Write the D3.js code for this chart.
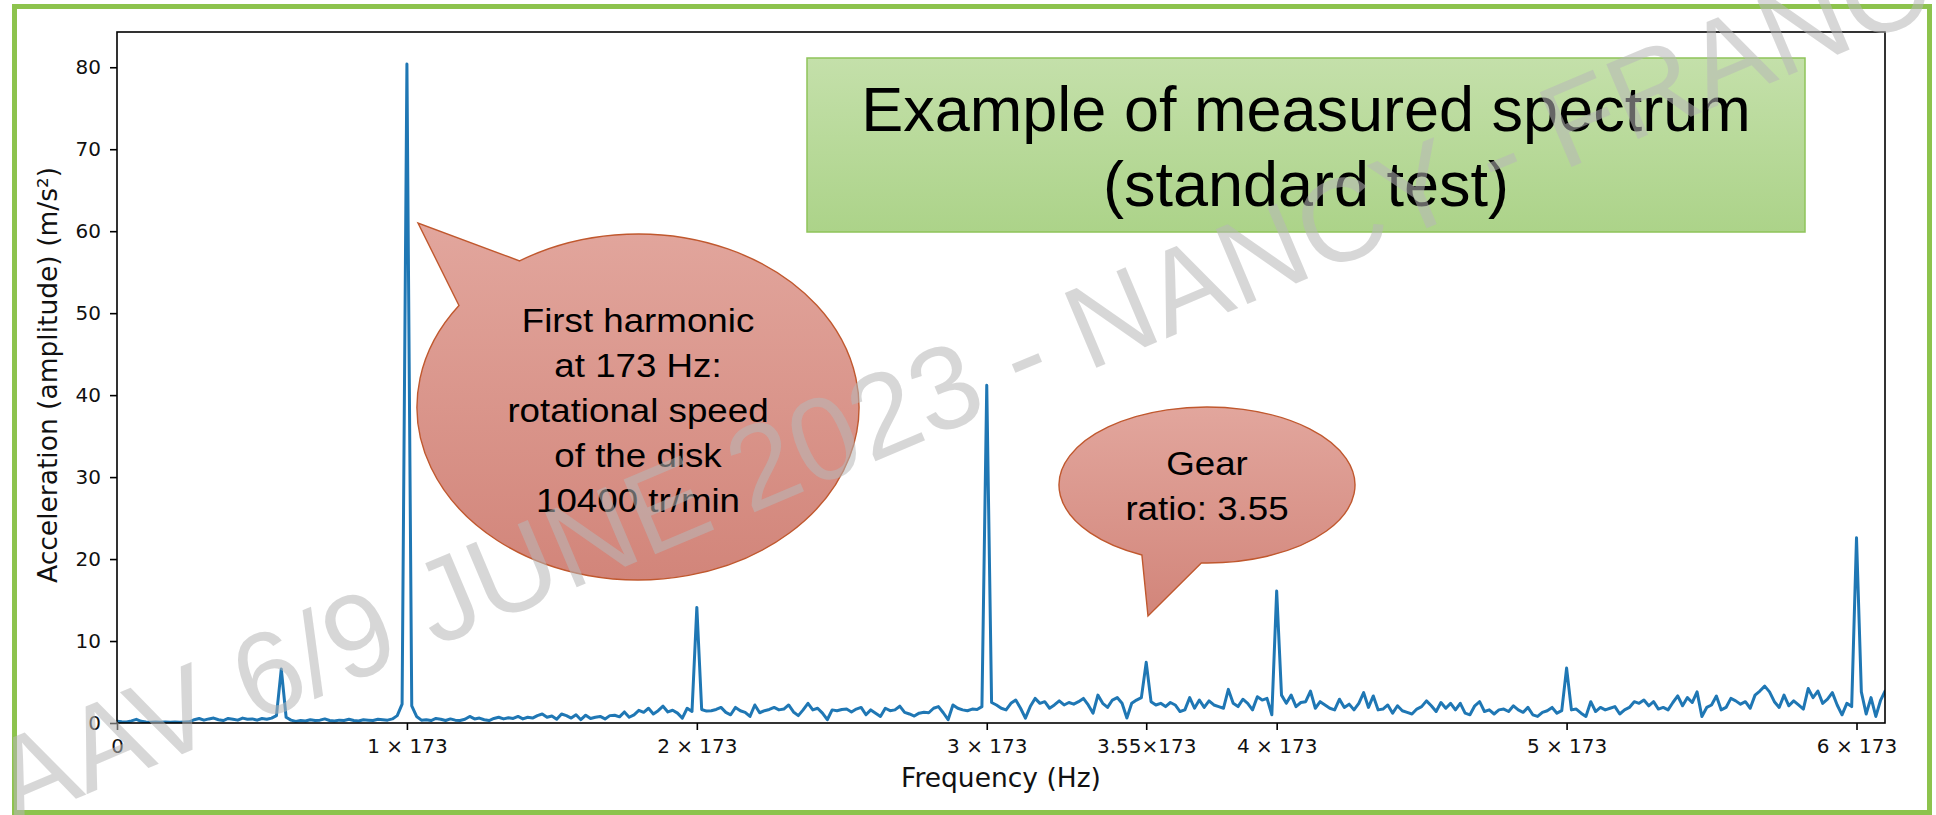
<!DOCTYPE html>
<html>
<head>
<meta charset="utf-8">
<script src="https://cdn.jsdelivr.net/npm/d3@7"></script>
<style>
  body { margin: 0; background: #fff; }
  svg { display: block; }
</style>
</head>
<body>
<div id="chart"></div>
<script>
// spectrum bins: one value every 173/60 Hz, from 0 Hz up to 1055 Hz
var binWidth = 173 / 60;
var amplitude = [
  0.2, 0.15, 0.12, 0.25, 0.45, 0.2, 0.12, 0.1, 0.12, 0.1,
  0.11, 0.1, 0.12, 0.1, 0.12, 0.15, 0.4, 0.55, 0.35, 0.5,
  0.6, 0.4, 0.3, 0.55, 0.45, 0.35, 0.6, 0.45, 0.5, 0.35,
  0.55, 0.45, 0.6, 0.9, 6.6, 0.7, 0.35, 0.2, 0.3, 0.25,
  0.4, 0.3, 0.35, 0.5, 0.3, 0.25, 0.35, 0.3, 0.45, 0.3,
  0.25, 0.4, 0.35, 0.3, 0.45, 0.4, 0.35, 0.5, 0.9, 2.3,
  80.4, 2.1, 0.8, 0.35, 0.4, 0.3, 0.55, 0.45, 0.3, 0.5,
  0.35, 0.3, 0.45, 0.8, 0.5, 0.6, 0.4, 0.3, 0.55, 0.7,
  0.5, 0.65, 0.55, 0.8, 0.5, 0.7, 0.6, 0.9, 1.1, 0.7,
  0.85, 0.45, 1.1, 0.9, 0.6, 1.0, 0.4, 0.95, 0.55, 0.7,
  0.8, 0.5, 0.9, 0.95, 0.75, 1.35, 0.7, 1.0, 1.55, 1.3,
  1.8, 1.1, 1.5, 2.05, 1.35, 1.55, 1.2, 0.6, 1.8, 1.4,
  14.1, 1.65, 1.45, 1.5, 1.65, 1.9, 1.3, 1.0, 1.9, 1.5,
  1.3, 0.8, 2.2, 1.25, 1.5, 1.65, 1.9, 1.6, 1.7, 2.2,
  1.35, 0.9, 1.6, 2.4, 1.6, 1.8, 1.2, 0.4, 1.6, 1.5,
  1.65, 1.7, 1.35, 1.7, 1.9, 1.0, 1.6, 1.2, 0.8, 1.8,
  1.5, 1.6, 2.05, 1.3, 1.1, 0.85, 1.2, 1.3, 1.25, 1.8,
  2.0, 1.25, 0.4, 2.2, 1.8, 1.6, 1.5, 1.7, 1.65, 2.0,
  41.2, 2.5, 2.2, 1.8, 1.6, 2.4, 2.8, 1.8, 0.6, 2.0,
  3.0, 2.4, 2.6, 1.8, 2.2, 2.7, 2.2, 2.5, 2.3, 2.6,
  3.0, 2.2, 1.2, 3.4, 2.4, 1.9, 2.8, 3.1, 2.4, 0.6,
  2.4, 2.8, 3.1, 7.4, 2.6, 2.2, 2.4, 2.0, 2.5, 2.2,
  1.4, 1.6, 3.1, 1.8, 2.8, 1.9, 2.7, 2.2, 2.0, 1.8,
  4.1, 2.4, 2.0, 2.9, 2.4, 1.6, 3.2, 2.8, 3.0, 1.0,
  16.1, 3.4, 2.4, 3.4, 2.0, 2.5, 2.6, 3.9, 1.8, 2.6,
  2.2, 1.8, 1.6, 2.9, 1.9, 2.3, 1.6, 2.4, 3.7, 1.9,
  3.3, 1.6, 1.7, 2.2, 1.2, 2.1, 1.5, 1.3, 1.1, 1.7,
  2.0, 2.7, 2.1, 1.4, 2.5, 1.8, 2.4, 1.6, 2.4, 1.2,
  1.0, 2.1, 2.6, 1.4, 1.6, 1.1, 1.6, 1.7, 1.4, 2.1,
  1.6, 1.3, 1.9, 1.0, 0.8, 1.3, 1.5, 1.9, 1.2, 1.5,
  6.7, 1.6, 1.7, 1.2, 0.8, 2.6, 1.4, 1.9, 1.6, 1.8,
  2.0, 1.1, 1.6, 1.9, 2.6, 2.4, 2.8, 2.1, 2.6, 1.7,
  1.9, 1.6, 2.5, 3.3, 2.1, 3.1, 2.5, 3.8, 0.8, 1.9,
  2.2, 3.3, 1.6, 1.9, 3.0, 2.7, 2.3, 2.6, 1.8, 3.4,
  3.9, 4.5, 3.8, 2.6, 1.9, 3.4, 2.1, 2.7, 2.2, 1.7,
  4.2, 3.1, 3.9, 2.4, 2.9, 3.7, 2.2, 1.0, 2.4, 2.0,
  22.6, 3.8, 1.1, 3.1, 0.8, 2.8, 4.0
];

var fundamental = 173;
var harmonicOrders = [0, 1, 2, 3, 3.55, 4, 5, 6];
var harmonicLabels = ["0", "1 × 173", "2 × 173", "3 × 173", "3.55×173", "4 × 173", "5 × 173", "6 × 173"];
var yTicks = [0, 10, 20, 30, 40, 50, 60, 70, 80];

var titleLines = ["Example of measured spectrum", "(standard test)"];
var diskNote = ["First harmonic", "at 173 Hz:", "rotational speed", "of the disk", "10400 tr/min"];
var gearNote = ["Gear", "ratio: 3.55"];
var watermark = "AAV 6/9 JUNE 2023 - NANCY - FRANCE";

var W = 1936, H = 815;
var margin = {top: 32, right: 51, bottom: 92, left: 117},
    width = W - margin.left - margin.right,
    height = H - margin.top - margin.bottom;

var x = d3.scaleLinear().domain([0, 1055]).range([0, width]);
var y = d3.scaleLinear().domain([0, 84.3]).range([height, 0]);

var svg = d3.select("#chart").append("svg")
    .attr("width", W)
    .attr("height", H);

var defs = svg.append("defs");

function vGradient(id, top, bottom) {
  var g = defs.append("linearGradient").attr("id", id)
      .attr("x1", 0).attr("y1", 0).attr("x2", 0).attr("y2", 1);
  g.append("stop").attr("offset", "0%").attr("stop-color", top);
  g.append("stop").attr("offset", "100%").attr("stop-color", bottom);
}
vGradient("titleFill", "#c4e0aa", "#acd389");
vGradient("noteFill", "#e2a69d", "#d2857a");

defs.append("clipPath").attr("id", "plotClip")
  .append("rect").attr("width", width).attr("height", height);

var g = svg.append("g")
    .attr("transform", "translate(" + margin.left + "," + margin.top + ")");

// spectrum line
var line = d3.line()
    .x(function(d, i) { return x(i * binWidth); })
    .y(function(d) { return y(d); });

g.append("path")
    .datum(amplitude)
    .attr("clip-path", "url(#plotClip)")
    .attr("fill", "none")
    .attr("stroke", "#1f77b4")
    .attr("stroke-width", 3)
    .attr("stroke-linejoin", "round")
    .attr("d", line);

// x axis
var xAxis = g.append("g")
    .attr("transform", "translate(0," + height + ")")
    .call(d3.axisBottom(x)
      .tickValues(harmonicOrders.map(function(k) { return k * fundamental; }))
      .tickFormat(function(d, i) { return harmonicLabels[i]; })
      .tickSize(7).tickPadding(9));

// y axis
var yAxis = g.append("g")
    .call(d3.axisLeft(y).tickValues(yTicks).tickSize(7).tickPadding(9));

[xAxis, yAxis].forEach(function(a) {
  a.select(".domain").remove();
  a.selectAll(".tick line").attr("stroke", "#000").attr("stroke-width", 1.6);
  a.selectAll(".tick text")
    .attr("fill", "#111")
    .style("font-family", "DejaVu Sans")
    .style("font-size", "20px");
});

g.append("rect")
    .attr("width", width)
    .attr("height", height)
    .attr("fill", "none")
    .attr("stroke", "#000")
    .attr("stroke-width", 1.6);

svg.append("text")
    .attr("x", margin.left + width / 2)
    .attr("y", 787)
    .attr("text-anchor", "middle")
    .style("font-family", "DejaVu Sans")
    .style("font-size", "26.5px")
    .attr("fill", "#111")
    .text("Frequency (Hz)");

svg.append("text")
    .attr("transform", "translate(57,375) rotate(-90)")
    .attr("text-anchor", "middle")
    .style("font-family", "DejaVu Sans")
    .style("font-size", "26.5px")
    .attr("fill", "#111")
    .text("Acceleration (amplitude) (m/s²)");

// title box
svg.append("rect")
    .attr("x", 807).attr("y", 58)
    .attr("width", 998).attr("height", 174)
    .attr("fill", "url(#titleFill)")
    .attr("stroke", "#8fc45a")
    .attr("stroke-width", 1.5);

svg.selectAll(".title-line")
    .data(titleLines)
  .enter().append("text")
    .attr("class", "title-line")
    .attr("x", 1306)
    .attr("y", function(d, i) { return 131 + i * 75; })
    .attr("text-anchor", "middle")
    .style("font-family", "Liberation Sans, Arial, sans-serif")
    .style("font-size", "63px")
    .attr("fill", "#000")
    .text(function(d) { return d; });

// speech bubbles: ellipse plus a wedge pointing at the peak
function bubble(cx, cy, rx, ry, a1, tip, a2, lines, firstBase, step) {
  var p1 = [cx + rx * Math.cos(a1), cy + ry * Math.sin(a1)],
      p2 = [cx + rx * Math.cos(a2), cy + ry * Math.sin(a2)];
  svg.append("path")
      .attr("d", "M" + p1 + "L" + tip + "L" + p2 +
        "A" + rx + "," + ry + " 0 1 1 " + p1 + "Z")
      .attr("fill", "url(#noteFill)")
      .attr("stroke", "#c0582e")
      .attr("stroke-width", 1.4);
  lines.forEach(function(t, i) {
    svg.append("text")
        .attr("transform", "translate(" + cx + "," + (firstBase + i * step) + ") scale(1.08,1)")
        .attr("text-anchor", "middle")
        .style("font-family", "Liberation Sans, Arial, sans-serif")
        .style("font-size", "34px")
        .attr("fill", "#000")
        .text(t);
  });
}

var rad = Math.PI / 180;
bubble(638, 407, 221, 173, 215.9 * rad, [418, 223], 237.6 * rad, diskNote, 332, 45);
bubble(1207, 485, 148, 78, 92.2 * rad, [1148, 616], 116.1 * rad, gearNote, 475, 45);

// slide frame
svg.append("rect")
    .attr("x", 14.5).attr("y", 6.5)
    .attr("width", 1915).attr("height", 806)
    .attr("fill", "none")
    .attr("stroke", "#8dc34d")
    .attr("stroke-width", 5);

// watermark
svg.append("text")
    .attr("transform", "translate(14,825) rotate(-22.9)")
    .style("font-family", "Liberation Sans, Arial, sans-serif")
    .style("font-size", "118px")
    .attr("fill", "#b8b8b8")
    .attr("opacity", 0.55)
    .text(watermark);
</script>
</body>
</html>
